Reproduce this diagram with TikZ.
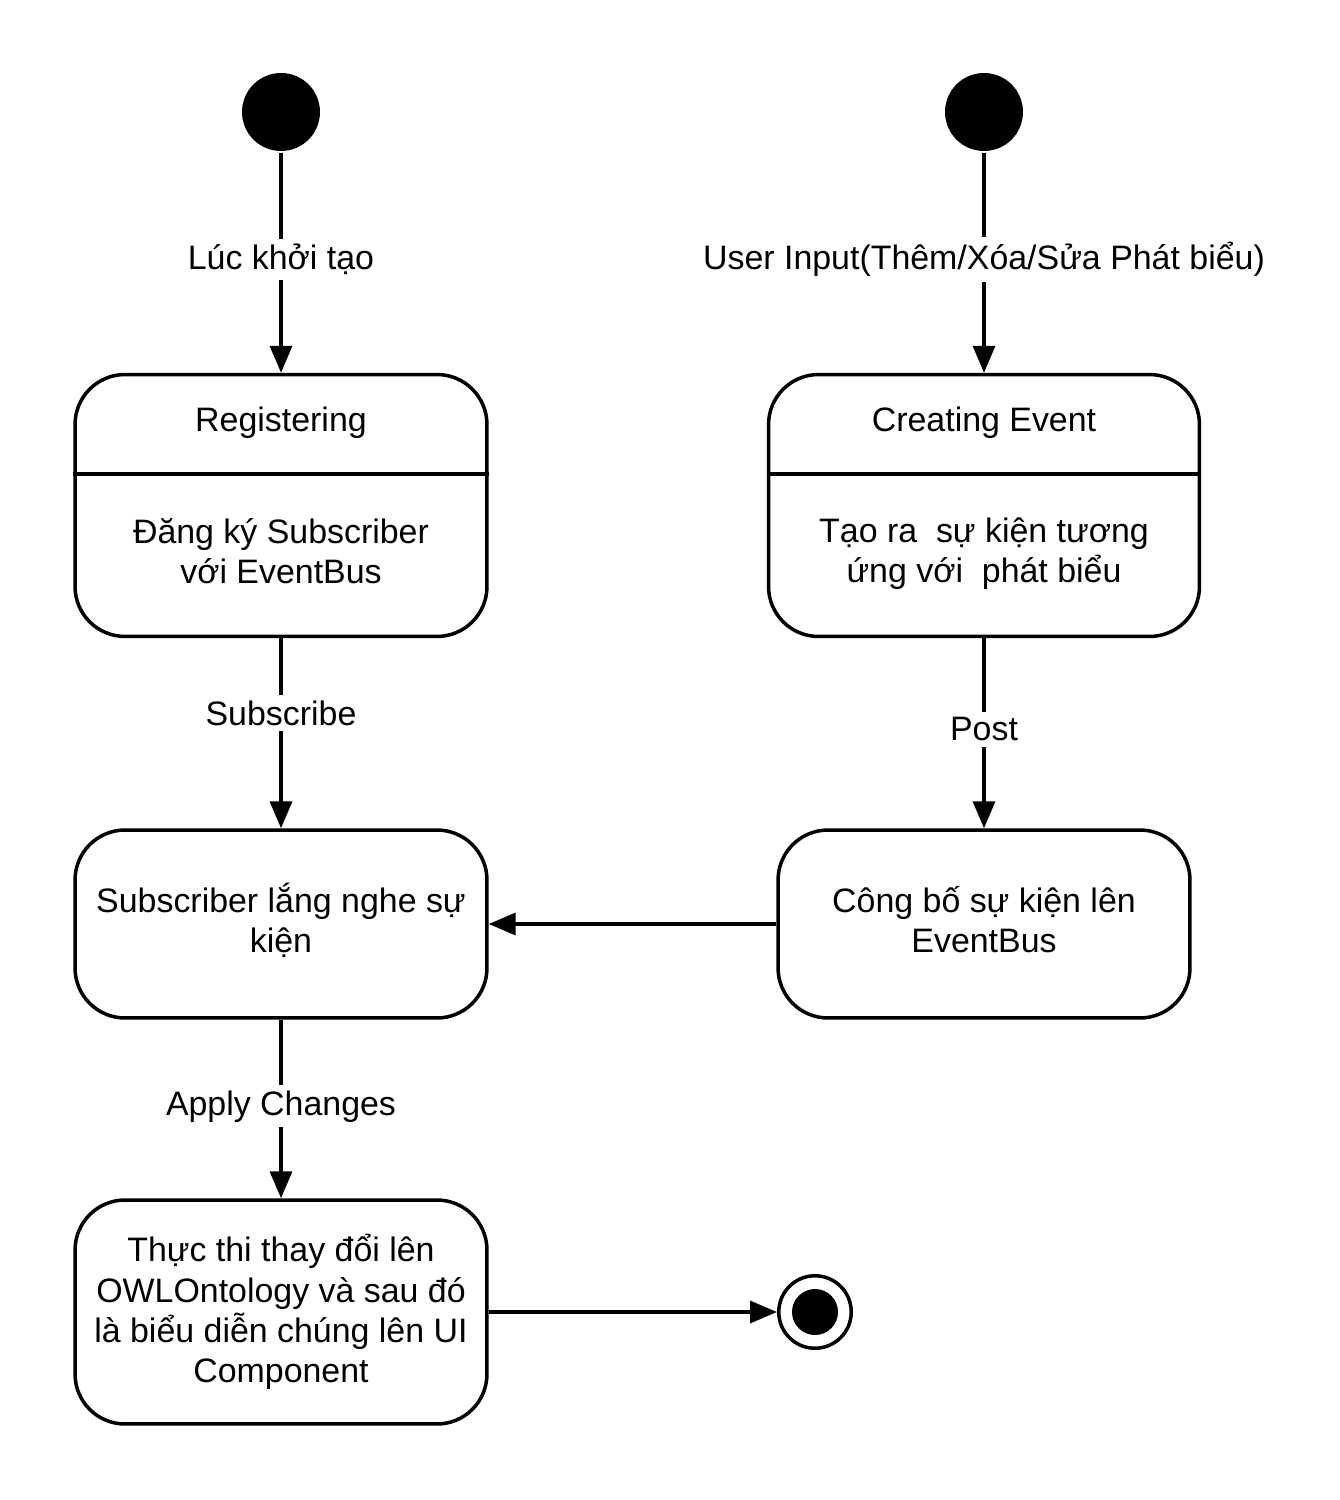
\documentclass[tikz,border=0pt]{standalone}
\usepackage{fontspec}
\setmainfont{Liberation Sans}
\usetikzlibrary{arrows.meta}
\begin{document}
\begin{tikzpicture}[x=0.02cm,y=-0.02cm,line width=0.07cm,
  state/.style={draw=black,rectangle,rounded corners=1cm,minimum width=8.24cm,inner sep=0pt},
  txt/.style={align=center,font=\fontsize{19.3}{22.9}\selectfont,inner sep=0pt},
  initial/.style={circle,fill=black,minimum size=1.56cm,inner sep=0pt},
  arr/.style={-{Triangle[length=0.54cm,width=0.44cm]}},
  lbl/.style={txt,fill=white,inner sep=3pt}]
\useasboundingbox (0,0) rectangle (1339,1500);
\node [initial] (s1) at (281,112) {};
\node [initial] (s2) at (984,112) {};
\node [state,minimum height=5.24cm] (reg) at (281,505.5) {};
\draw (reg.west |- 0,474) -- (reg.east |- 0,474);
\node [txt] (regt) at (281,423) {Registering};
\node [txt] (regb) at (281,551.5) {Đăng ký Subscriber\\với EventBus};
\node [state,minimum width=8.62cm,minimum height=5.24cm] (cre) at (984,505.5) {};
\draw (cre.west |- 0,474) -- (cre.east |- 0,474);
\node [txt] (cret) at (984,423) {Creating Event};
\node [txt] (creb) at (984,554) {Tạo ra\ \ sự kiện tương\\ứng với\ \ phát biểu};
\node [state,minimum height=3.76cm] (sub) at (281,924) {};
\node [txt] (subt) at (281,920) {Subscriber lắng nghe sự\\kiện};
\node [state,minimum height=3.76cm] (pub) at (984,924) {};
\node [txt] (pubt) at (984,920) {Công bố sự kiện lên\\EventBus};
\node [state,minimum height=4.48cm,txt] (exe) at (281,1312) {Thực thi thay đổi lên\\OWLOntology và sau đó\\là biểu diễn chúng lên UI\\Component};
\node [circle,draw=black,minimum size=1.45cm,inner sep=0pt] (fin) at (815,1312) {};
\node [circle,fill=black,minimum size=0.92cm,inner sep=0pt] (fini) at (815,1312) {};
\draw [arr] (s1) -- node [lbl,pos=0.485] {Lúc khởi tạo} (reg);
\draw [arr] (s2) -- node [lbl,pos=0.485] {User Input(Thêm/Xóa/Sửa Phát biểu)} (cre);
\draw [arr] (reg) -- node [lbl,pos=0.394] {Subscribe} (sub);
\draw [arr] (cre) -- node [lbl,pos=0.48] {Post} (pub);
\draw [arr] (pub) -- (sub);
\draw [arr] (sub) -- node [lbl,pos=0.485] {Apply Changes} (exe);
\draw [arr] (exe) -- (fin);
\end{tikzpicture}
\end{document}
